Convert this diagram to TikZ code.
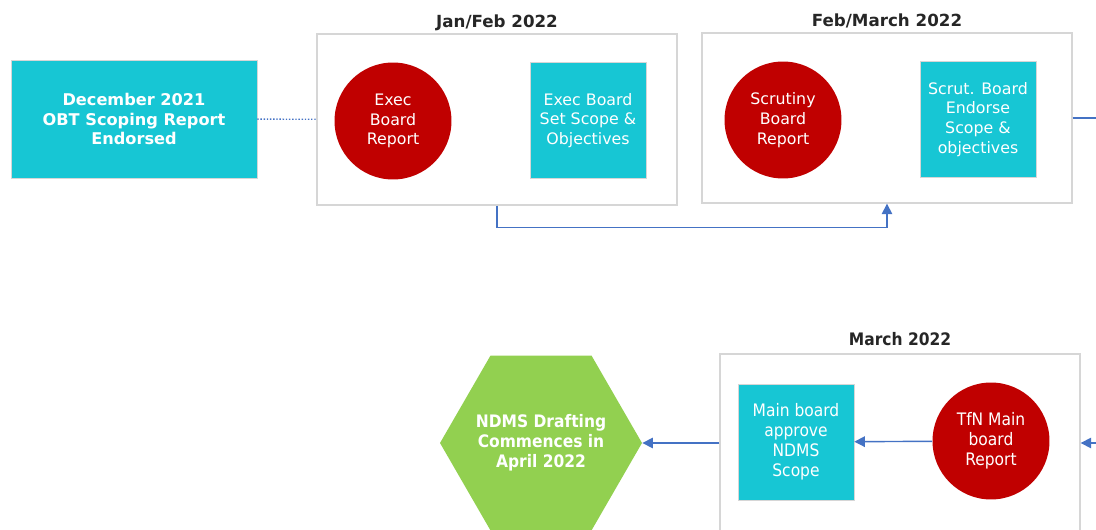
\documentclass[tikz,border=0pt]{standalone}
\usepackage{fontspec}
\setmainfont{DejaVu Sans}
\newfontfamily\condfont{DejaVu Sans Condensed}
\usetikzlibrary{arrows.meta,shapes.geometric,positioning}
\definecolor{boxcyan}{RGB}{23,198,212}
\definecolor{boardred}{RGB}{192,0,0}
\definecolor{hexgreen}{RGB}{146,208,80}
\definecolor{linkblue}{RGB}{68,114,196}
\definecolor{framegray}{RGB}{214,214,214}
\definecolor{titlegray}{RGB}{38,38,38}

\begin{document}
\begin{tikzpicture}[x=0.02cm,y=-0.02cm,
  frm/.style={rectangle,draw=framegray,line width=0.8pt,fill=white},
  ttl/.style={font=\fontsize{9.5}{11}\selectfont\bfseries,text=titlegray,
              inner sep=0pt,text depth=0pt},
  sqr/.style={rectangle,draw=framegray,line width=0.4pt,fill=boxcyan,text=white,
              minimum width=2.32cm,minimum height=2.32cm,align=center,
              font=\fontsize{9}{11.3}\selectfont},
  rnd/.style={circle,fill=boardred,text=white,minimum size=2.34cm,inner sep=0pt,
              align=center,font=\fontsize{9}{11.3}\selectfont},
  cnd/.style={font=\condfont\fontsize{9.8}{11.3}\selectfont},
  hexa/.style={regular polygon,regular polygon sides=6,fill=hexgreen,
               minimum size=4.04cm,inner sep=0pt},
  arr/.style={-{Triangle[length=6pt,width=6pt]},line width=0.8pt,draw=linkblue},
  lnk/.style={line width=0.8pt,draw=linkblue},
]
\useasboundingbox (0,0) rectangle (1096,530);
\clip (0,0) rectangle (1096,530);

% top row
\node[sqr,minimum width=4.92cm,minimum height=2.36cm,font=\fontsize{9.2}{11.3}\selectfont\bfseries]
  (dec) at (134,119) {December 2021\\OBT Scoping Report\\Endorsed};

\node[frm,minimum width=7.2cm,minimum height=3.42cm] (f1) at (497,119.5) {};
\node[ttl,above=1.1mm of f1] (t1) {Jan/Feb 2022};
\node[rnd] (exec) at (393,121) {Exec\\Board\\Report};
\node[sqr] (execset) at (588,120.5) {Exec Board\\Set Scope \&\\Objectives};

\node[frm,minimum width=7.4cm,minimum height=3.4cm] (f2) at (887,118) {};
\node[ttl,above=1.1mm of f2] (t2) {Feb/March 2022};
\node[rnd] (scrut) at (783,120) {Scrutiny\\Board\\Report};
\node[sqr] (scrutend) at (978,119.5) {Scrut. Board\\Endorse\\Scope \&\\objectives};

\coordinate (outR) at (1110,118);

\draw[lnk,densely dotted] (dec) -- (f1);
\draw[arr] (f1.south) -- ++(0,22) -| (f2.south);
\draw[lnk] (f2) -- (outR);

% bottom row
\node[frm,minimum width=7.2cm,minimum height=3.56cm] (f3) at (900,443) {};
\node[ttl,font=\condfont\fontsize{9.8}{11}\selectfont\bfseries,above=1.4mm of f3] (t3) {March 2022};
\node[sqr,cnd] (mainapp) at (796,442) {Main board\\approve\\NDMS\\Scope};
\node[rnd,cnd] (tfn) at (991,441) {TfN Main\\board\\Report};

\node[hexa] (ndms) at (541,443) {};
\node[align=center,text=white,font=\condfont\fontsize{9.8}{11.3}\selectfont\bfseries]
  (ndmstxt) at (ndms) {NDMS Drafting\\Commences in\\April 2022};

\coordinate (inR) at (1110,443);

\draw[arr] (inR) -- (f3);
\draw[arr] (tfn) -- (mainapp);
\draw[arr] (f3) -- (ndms);
\end{tikzpicture}
\end{document}
